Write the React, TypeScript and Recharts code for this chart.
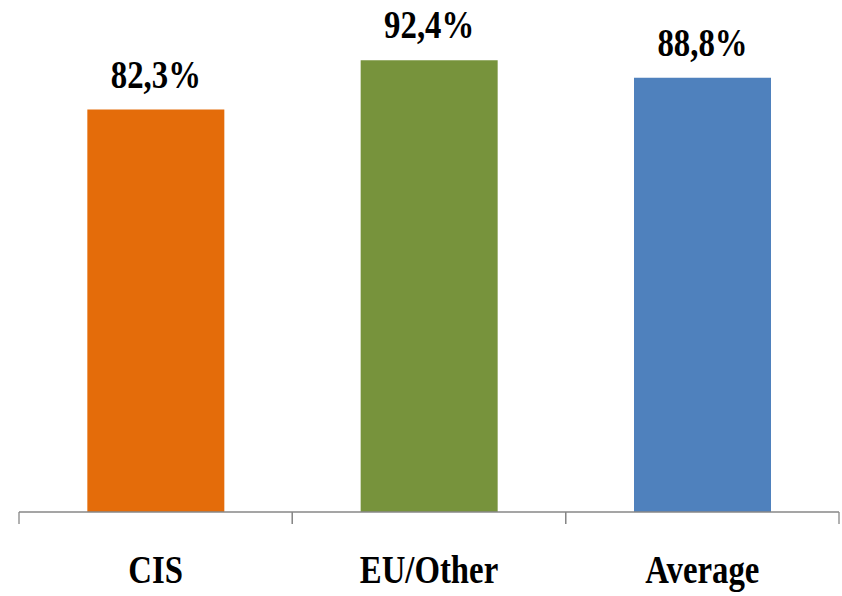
import React from 'react';
import { BarChart, Bar, XAxis, YAxis, Cell, LabelList } from 'recharts';

// Category names, their shares (%) and bar fills
const categories: string[] = ['CIS', 'EU/Other', 'Average'];
const shares: number[] = [82.3, 92.4, 88.8];
const barColors: string[] = ['#E46C0A', '#77933C', '#4F81BD'];

const data = categories.map((name, i) => ({ name, share: shares[i] }));

const FONT = '"Liberation Serif", "Times New Roman", serif';
const AXIS_GRAY = '#878787';
const SQUEEZE = 0.82; // narrow the bold serif glyphs horizontally

const formatShare = (v: number) => `${v.toFixed(1).replace('.', ',')}%`;

// Category label plus boundary tick marks at both edges of the band
const CategoryTick = (props: any) => {
  const { x, y, payload } = props;
  const half = payload && payload.offset ? payload.offset : 0;
  return (
    <g>
      <line x1={x - half} x2={x - half} y1={y} y2={y + 12} stroke={AXIS_GRAY} strokeWidth={1.3} />
      <line x1={x + half} x2={x + half} y1={y} y2={y + 12} stroke={AXIS_GRAY} strokeWidth={1.3} />
      <text
        transform={`translate(${x} ${y + 71}) scale(${SQUEEZE} 1)`}
        textAnchor="middle"
        fontFamily={FONT}
        fontWeight="bold"
        fontSize={40}
        fill="#000"
      >
        {payload.value}
      </text>
    </g>
  );
};

const ValueLabel = (props: any) => {
  const { x, y, width, value } = props;
  return (
    <text
      transform={`translate(${x + width / 2} ${y - 22}) scale(${SQUEEZE} 1)`}
      textAnchor="middle"
      fontFamily={FONT}
      fontWeight="bold"
      fontSize={40}
      fill="#000"
    >
      {formatShare(value)}
    </text>
  );
};

export default function App() {
  return (
    <div style={{ position: 'absolute', left: 0, top: 0, width: 842, height: 596, background: '#fff' }}>
      <BarChart
        width={842}
        height={596}
        data={data}
        margin={{ top: 23, right: 3, bottom: 0, left: 19 }}
        barCategoryGap="25%"
      >
        <YAxis hide domain={[0, 100]} />
        <XAxis
          dataKey="name"
          height={84}
          axisLine={{ stroke: AXIS_GRAY, strokeWidth: 1.3 }}
          tickLine={false}
          tickSize={0}
          tickMargin={0}
          interval={0}
          tick={<CategoryTick />}
        />
        <Bar dataKey="share" isAnimationActive={false}>
          {data.map((d, i) => (
            <Cell key={d.name} fill={barColors[i]} />
          ))}
          <LabelList dataKey="share" content={<ValueLabel />} />
        </Bar>
      </BarChart>
    </div>
  );
}
